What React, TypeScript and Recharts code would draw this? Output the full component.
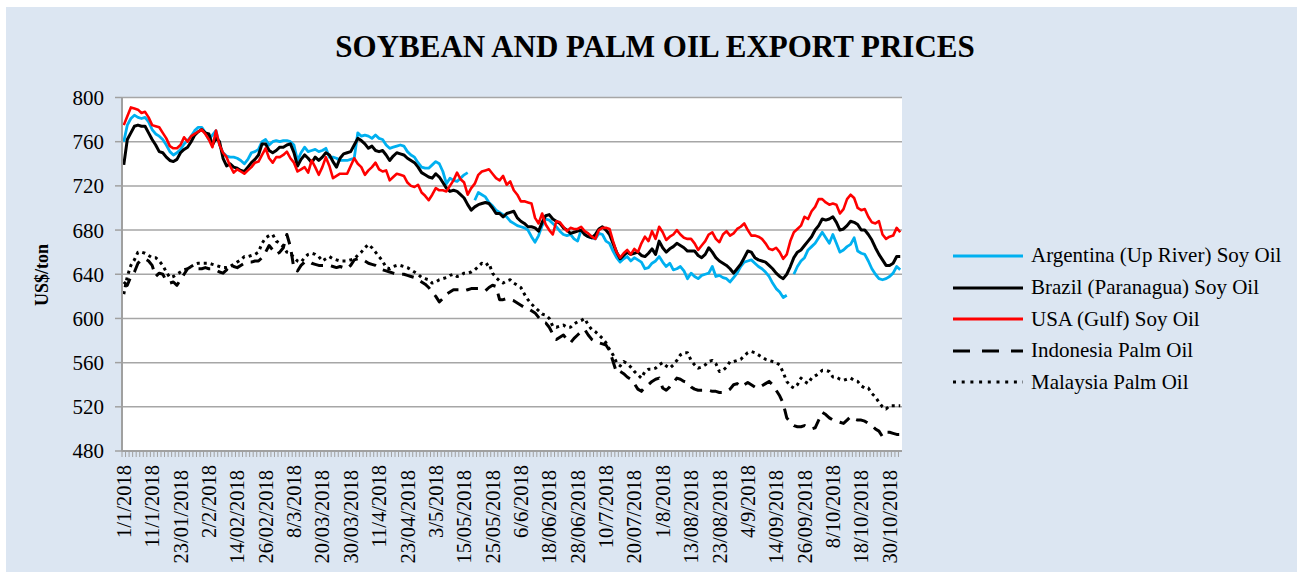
import React from 'react';
import { LineChart, Line, XAxis, YAxis, CartesianGrid } from 'recharts';

// daily export prices, business days from 1/1/2018 to 2/11/2018
const START_DATE = new Date(2018, 0, 1);
const DAY_COUNT = 220;
const LABEL_EVERY = 8;

const Y_TICKS = [480, 520, 560, 600, 640, 680, 720, 760, 800];

const ARGENTINA: (number | null)[] = [
  760, 775, 781, 784, 782, 781, 782, 778, 771, 767, 765, 762, 757, 751, 748, 750, 753, 758, 761, 765, 770, 773,
  773, 768, 762, 766, 770, 757, 750, 747, 746, 746, 745, 743, 740, 744, 750, 751, 753, 760, 762, 757, 760, 761,
  760, 761, 761, 760, 757, 743, 750, 755, 751, 752, 753, 751, 752, 754, 746, 746, 745, 743, 743, 743, 744, 745,
  768, 765, 766, 765, 763, 766, 763, 762, 757, 754, 755, 756, 757, 756, 751, 748, 746, 741, 737, 736, 736, 739, 742,
  740, 733, 722, 727, 725, 724, 727, 730, 732, null, 707, 714, 712, 710, 705, 702, 698, 696, 694, 692, 688, 686,
  684, 683, 682, 680, 674, 669, 675, 684, 690, 689, 686, 683, 679, 676, 675, 676, 672, 670, 680, 676, 674, 673,
  672, 677, 676, 670, 668, 661, 655, 651, 654, 656, 652, 655, 653, 651, 645, 646, 650, 652, 656, 651, 647, 650,
  644, 645, 647, 643, 636, 641, 638, 636, 639, 640, 641, 647, 638, 639, 637, 636, 633, 637, 641, 647, 651, 652, 653,
  650, 647, 645, 642, 638, 632, 627, 624, 619, 621, null, 640, 647, 652, 655, 662, 665, 668, 673, 678, 673,
  668, 676, 668, 660, 662, 665, 667, 673, 661, 659, 658, 652, 645, 640, 636, 635, 636, 638, 641, 647, 644,
];

const BRAZIL: number[] = [
  739, 762, 768, 774, 775, 774, 774, 768, 762, 757, 751, 750, 746, 743, 742, 744, 750, 753, 755, 760, 766, 769,
  771, 768, 767, 757, 763, 760, 745, 738, 740, 737, 736, 734, 733, 737, 741, 744, 748, 758, 758, 752, 750, 752,
  755, 755, 757, 758, 750, 738, 744, 748, 745, 741, 746, 743, 746, 750, 748, 742, 737, 745, 749, 750, 751, 757,
  763, 761, 758, 754, 756, 752, 751, 752, 748, 743, 747, 750, 749, 748, 745, 743, 741, 737, 732, 730, 728, 727, 731,
  728, 723, 718, 715, 716, 715, 712, 709, 703, 698, 701, 703, 704, 705, 704, 700, 695, 695, 692, 695, 696, 697,
  691, 688, 686, 683, 683, 682, 679, 687, 693, 694, 690, 688, 686, 682, 680, 677, 678, 679, 680, 676, 674, 673,
  676, 681, 683, 680, 676, 668, 660, 654, 657, 660, 658, 659, 660, 657, 656, 659, 663, 658, 670, 664, 660, 663,
  665, 668, 666, 664, 661, 661, 661, 657, 655, 658, 664, 660, 655, 652, 650, 648, 645, 641, 645, 649, 655, 661, 660,
  655, 653, 652, 651, 648, 645, 641, 638, 636, 640, 647, 655, 660, 662, 666, 670, 674, 680, 684, 690, 689,
  690, 692, 687, 680, 681, 684, 688, 687, 685, 680, 680, 676, 671, 664, 658, 653, 648, 648, 650, 656, 656,
];

const USA: number[] = [
  775, 783, 791, 790, 789, 786, 787, 782, 775, 774, 773, 768, 763, 756, 754, 754, 757, 764, 760, 765, 767, 769,
  771, 767, 762, 755, 770, 757, 750, 746, 738, 732, 735, 733, 731, 734, 737, 741, 742, 748, 754, 745, 741, 746,
  746, 748, 751, 745, 741, 733, 735, 737, 732, 743, 737, 730, 737, 746, 738, 727, 729, 731, 731, 731, 738, 745,
  740, 737, 730, 734, 737, 741, 735, 733, 734, 725, 728, 731, 730, 729, 723, 720, 719, 721, 714, 711, 707, 712, 718,
  716, 716, 715, 720, 725, 732, 726, 723, 712, 718, 722, 730, 733, 734, 735, 731, 727, 725, 729, 721, 724, 716,
  712, 706, 706, 705, 704, 691, 686, 695, 685, 680, 676, 688, 687, 683, 679, 682, 681, 681, 683, 679, 677, 674,
  672, 680, 682, 682, 681, 670, 660, 655, 659, 662, 658, 663, 660, 668, 674, 670, 679, 672, 683, 678, 671, 674,
  676, 680, 676, 673, 672, 672, 668, 662, 666, 670, 676, 678, 672, 669, 676, 679, 675, 677, 681, 683, 686, 680, 675,
  675, 674, 672, 668, 663, 662, 664, 660, 654, 658, 670, 678, 681, 684, 692, 690, 697, 701, 708, 708, 705,
  703, 704, 703, 695, 699, 708, 712, 709, 700, 698, 699, 692, 687, 686, 688, 676, 672, 674, 675, 682, 678,
];

const INDONESIA: number[] = [
  633, 630, 638, 642, 650, 653, 654, 652, 648, 638, 641, 640, 634, 632, 633, 630, 635, 640, 645, 647, 646, 645,
  645, 646, 645, 645, 644, 642, 641, 644, 649, 647, 646, 648, 650, 651, 651, 652, 652, 655, 660, 666, 662, 658,
  660, 664, 676, 665, 645, 643, 648, 651, 652, 650, 649, 648, 648, 648, 648, 647, 646, 647, 646, 645, 648, 653,
  654, 654, 652, 650, 649, 648, 646, 644, 643, 642, 641, 640, 640, 640, 639, 638, 637, 635, 633, 631, 628, 624, 620,
  615, 618, 622, 624, 626, 626, 626, 625, 626, 627, 627, 627, 626, 625, 628, 630, 629, 617, 617, 618, 617, 616,
  614, 612, 610, 609, 607, 605, 601, 597, 596, 592, 586, 581, 583, 585, 581, 578, 582, 585, 588, 590, 585, 581,
  579, 578, 577, 576, 571, 561, 551, 552, 550, 547, 545, 541, 536, 534, 538, 540, 543, 545, 546, 537, 535, 538,
  542, 546, 545, 543, 542, 538, 536, 535, 535, 535, 535, 534, 534, 533, 533, 534, 536, 540, 541, 538, 540, 542, 540,
  538, 537, 539, 541, 543, 540, 535, 530, 523, 510, 506, 503, 502, 502, 503, 501, 500, 501, 508, 515, 513,
  510, 508, 507, 506, 505, 508, 511, 509, 508, 508, 507, 505, 503, 500, 498, 493, 497, 497, 496, 495, 495,
];

const MALAYSIA: number[] = [
  622, 638, 648, 653, 660, 660, 659, 657, 655, 655, 652, 648, 642, 637, 638, 640, 642, 644, 645, 647, 649, 650,
  650, 650, 650, 649, 648, 647, 646, 646, 647, 649, 651, 653, 656, 656, 657, 658, 660, 668, 673, 675, 676, 670,
  668, 665, 660, 659, 655, 652, 651, 655, 658, 659, 658, 656, 652, 654, 656, 654, 653, 652, 652, 652, 653, 654,
  657, 660, 664, 667, 664, 660, 656, 652, 646, 645, 647, 648, 648, 647, 646, 644, 642, 640, 637, 636, 635, 632, 633,
  635, 636, 637, 639, 640, 638, 639, 641, 641, 642, 644, 647, 650, 648, 650, 641, 637, 634, 632, 634, 635, 632,
  630, 628, 622, 617, 613, 610, 607, 604, 603, 600, 593, 592, 593, 594, 592, 592, 595, 597, 598, 600, 594, 590,
  588, 585, 582, 578, 572, 567, 560, 557, 561, 559, 556, 552, 549, 546, 552, 554, 554, 555, 558, 560, 557, 555,
  558, 562, 567, 569, 569, 562, 558, 555, 556, 558, 561, 562, 559, 552, 553, 556, 561, 561, 562, 563, 566, 569, 570,
  569, 567, 565, 563, 562, 561, 560, 558, 551, 543, 539, 537, 540, 546, 543, 541, 546, 548, 550, 553, 553,
  552, 547, 547, 545, 544, 545, 546, 544, 543, 539, 537, 537, 532, 529, 524, 520, 518, 521, 521, 521, 521,
];

const FONT = '"Liberation Serif", "Times New Roman", serif';

const SERIES = [
  { key: 'argentina', name: 'Argentina (Up River) Soy Oil', color: '#00b0f0', width: 2.8, dash: undefined, legendDash: undefined },
  { key: 'brazil', name: 'Brazil (Paranagua) Soy Oil', color: '#000000', width: 3, dash: undefined, legendDash: undefined },
  { key: 'usa', name: 'USA (Gulf) Soy Oil', color: '#ff0000', width: 2.6, dash: undefined, legendDash: undefined },
  { key: 'indonesia', name: 'Indonesia Palm Oil', color: '#000000', width: 3, dash: '12 8', legendDash: '17 12' },
  { key: 'malaysia', name: 'Malaysia Palm Oil', color: '#000000', width: 3, dash: '3 4', legendDash: '3 5.7' },
];

function businessDays(start: Date, count: number) {
  const out: { label: string; padded: boolean }[] = [];
  const d = new Date(start);
  while (out.length < count) {
    const wd = d.getDay();
    if (wd !== 0 && wd !== 6) {
      const day = d.getDate();
      const mon = d.getMonth() + 1;
      const padded = day > 12;
      const label = padded
        ? `${String(day).padStart(2, '0')}/${String(mon).padStart(2, '0')}/${d.getFullYear()}`
        : `${day}/${mon}/${d.getFullYear()}`;
      out.push({ label, padded });
    }
    d.setDate(d.getDate() + 1);
  }
  return out;
}

const DATES = businessDays(START_DATE, DAY_COUNT);
const DATE_INDEX = new Map(DATES.map((d, i) => [d.label, i]));

const data = DATES.map((d, i) => ({
  date: d.label,
  argentina: ARGENTINA[i],
  brazil: BRAZIL[i],
  usa: USA[i],
  indonesia: INDONESIA[i],
  malaysia: MALAYSIA[i],
}));

const PLOT_WIDTH = 780;
const STEP = PLOT_WIDTH / DAY_COUNT;

const DateTick = (props: any) => {
  const { x, y, payload } = props;
  const i = DATE_INDEX.get(payload.value) ?? 0;
  const bx = x - STEP / 2;
  const ty = y + (DATES[i].padded ? 19 : 14);
  return (
    <g>
      <line x1={bx} y1={y} x2={bx} y2={y + 6} stroke="#a0a0a0" strokeWidth={1} />
      {i % LABEL_EVERY === 0 && (
        <text
          x={x}
          y={ty}
          dy="0.35em"
          transform={`rotate(-90 ${x} ${ty})`}
          textAnchor="end"
          fontSize={20.5}
          fill="#000"
        >
          {payload.value}
        </text>
      )}
    </g>
  );
};

const App: React.FC = () => {
  return (
    <div
      style={{
        position: 'absolute',
        left: 6,
        top: 7,
        width: 1291,
        height: 565,
        background: '#dce6f2',
        fontFamily: FONT,
        color: '#000',
      }}
    >
      <LineChart width={1291} height={565} data={data} margin={{ top: 90.5, right: 395, bottom: 11, left: 56 }}>
        <CartesianGrid vertical={false} fill="#ffffff" stroke="#a6a6a6" strokeWidth={1.5} />
        <XAxis
          dataKey="date"
          interval={0}
          height={110}
          tickLine={false}
          tickSize={0}
          tickMargin={0}
          tick={<DateTick />}
          axisLine={{ stroke: '#a0a0a0', strokeWidth: 2 }}
          padding={{ left: STEP / 2, right: STEP / 2 }}
        />
        <YAxis
          domain={[480, 800]}
          ticks={Y_TICKS}
          width={60}
          tickSize={7}
          tickMargin={11}
          axisLine={{ stroke: '#a0a0a0', strokeWidth: 2 }}
          tickLine={{ stroke: '#a0a0a0', strokeWidth: 1.5 }}
          tick={{ fill: '#000', fontSize: 21 }}
        />
        {SERIES.map(s => (
          <Line
            key={s.key}
            type="linear"
            dataKey={s.key}
            name={s.name}
            stroke={s.color}
            strokeWidth={s.width}
            strokeDasharray={s.dash}
            strokeLinejoin="round"
            dot={false}
            activeDot={false}
            isAnimationActive={false}
          />
        ))}
      </LineChart>

      {/* title */}
      <div
        style={{
          position: 'absolute',
          left: 249,
          top: 24,
          width: 800,
          textAlign: 'center',
          fontSize: 31,
          lineHeight: '31px',
          fontWeight: 'bold',
        }}
      >
        SOYBEAN AND PALM OIL EXPORT PRICES
      </div>

      {/* y axis title */}
      <div
        style={{
          position: 'absolute',
          left: -14,
          top: 255.5,
          width: 100,
          height: 24,
          lineHeight: '24px',
          textAlign: 'center',
          fontSize: 18,
          fontWeight: 'bold',
          transform: 'rotate(-90deg)',
        }}
      >
        US$/ton
      </div>

      {/* legend */}
      <div style={{ position: 'absolute', left: 947, top: 233.2 }}>
        {SERIES.map(s => (
          <div key={s.key} style={{ display: 'flex', alignItems: 'center', height: 31.6 }}>
            <svg width={70} height={10} style={{ display: 'block' }}>
              <line x1={0} y1={5} x2={70} y2={5} stroke={s.color} strokeWidth={3} strokeDasharray={s.legendDash} />
            </svg>
            <span style={{ marginLeft: 8, fontSize: 21, whiteSpace: 'nowrap' }}>{s.name}</span>
          </div>
        ))}
      </div>
    </div>
  );
};

export default App;
